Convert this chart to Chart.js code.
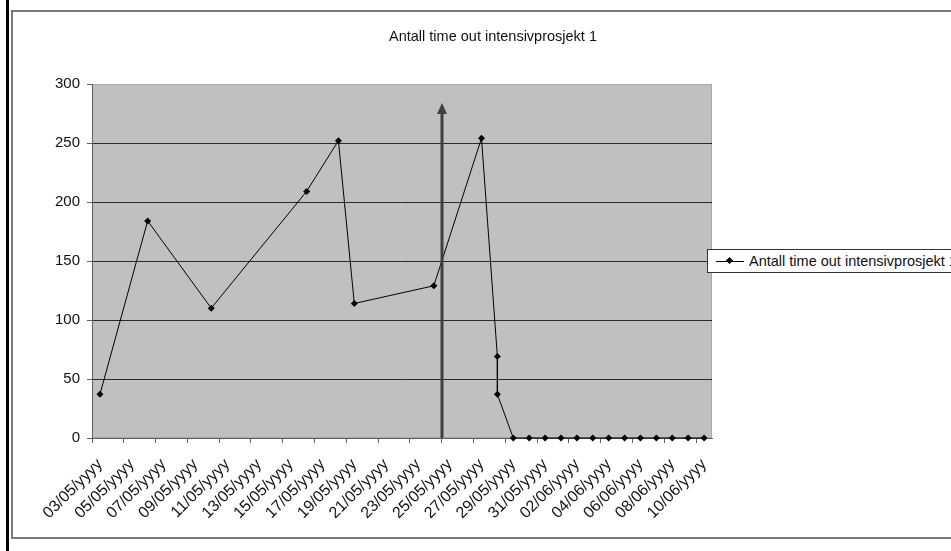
<!DOCTYPE html>
<html>
<head>
<meta charset="utf-8">
<script src="https://cdn.jsdelivr.net/npm/chart.js@4.4.1/dist/chart.umd.min.js"></script>
<style>
  html, body { margin: 0; padding: 0; background: #fff; overflow: hidden; }
  #wrap { position: relative; width: 951px; height: 551px; overflow: hidden; }
  #bar { position: absolute; left: 6px; top: 0; width: 3px; height: 551px; background: #000; }
  #frame { position: absolute; left: 11px; top: 10px; width: 960px; height: 525px; border: 2px solid #7a7a7a; }
  #chart { position: absolute; left: 0; top: 0; }
  #legend {
    position: absolute; left: 707px; top: 249px; width: 300px; height: 22px;
    border: 1px solid #333; background: #fff;
    font-family: "Liberation Sans", Arial, sans-serif; font-size: 14.5px; color: #111;
  }
  #legend .line { position: absolute; left: 8px; top: 11px; width: 28px; height: 1px; background: #000; }
  #legend .marker { position: absolute; left: 19px; top: 8px; width: 5px; height: 5px; background: #000; transform: rotate(45deg); }
  #legend .text { position: absolute; left: 41px; top: 2px; white-space: nowrap; line-height: 18px; }
</style>
</head>
<body>
<div id="wrap">
  <div id="bar"></div>
  <div id="frame"></div>
  <canvas id="chart" width="951" height="551"></canvas>
  <div id="legend"></div>
</div>
<script>
// Static data (dd/mm, year shown as "yyyy" in the original)
const chartTitle = "Antall time out intensivprosjekt 1";
const seriesLabel = "Antall time out intensivprosjekt 1";

const pointDates = [
    "03/05", "06/05", "10/05", "16/05", "18/05", "19/05", "24/05", "27/05",
    "28/05", "28/05", "29/05", "30/05", "31/05", "01/06", "02/06", "03/06",
    "04/06", "05/06", "06/06", "07/06", "08/06", "09/06", "10/06",
];
const timeOuts = [
    37, 184, 110, 209, 252, 114, 129, 254, 69, 37, 0, 0, 0, 0, 0, 0, 0, 0, 0,
    0, 0, 0, 0,
];

const firstDay = "03/05";
const lastDay = "10/06";
const tickDates = [
    "03/05", "05/05", "07/05", "09/05", "11/05", "13/05", "15/05", "17/05",
    "19/05", "21/05", "23/05", "25/05", "27/05", "29/05", "31/05", "02/06",
    "04/06", "06/06", "08/06", "10/06",
];
const yTicks = [0, 50, 100, 150, 200, 250, 300];

// Vertical arrow marker
const arrowDate = "25/05";
const arrowTop = 284;

const dayIndex = (d) => {
    const [dd, mm] = d.split("/").map(Number);
    const [fd, fm] = firstDay.split("/").map(Number);
    return (Date.UTC(2000, mm - 1, dd) - Date.UTC(2000, fm - 1, fd)) / 86400000;
};

const font = { family: "'Liberation Sans', Arial, sans-serif" };

// Gray plot area + light border
const plotBackground = {
    id: "plotBackground",
    beforeDraw(chart) {
        const { ctx, chartArea: a } = chart;
        ctx.save();
        ctx.fillStyle = "#c0c0c0";
        ctx.fillRect(a.left, a.top, a.right - a.left, a.bottom - a.top);
        ctx.strokeStyle = "#a8a8a8";
        ctx.lineWidth = 1;
        ctx.strokeRect(a.left + 0.5, a.top + 0.5, a.right - a.left - 1, a.bottom - a.top - 1);
        ctx.restore();
    },
};

const arrowMarker = {
    id: "arrowMarker",
    afterDatasetsDraw(chart) {
        const { ctx } = chart;
        const x = chart.scales.x;
        const y = chart.scales.y;
        const px = Math.round(x.getPixelForValue(dayIndex(arrowDate)));
        const top = y.getPixelForValue(arrowTop);
        const base = y.getPixelForValue(0);
        ctx.save();
        ctx.strokeStyle = "#404040";
        ctx.fillStyle = "#404040";
        ctx.lineWidth = 3;
        ctx.beginPath();
        ctx.moveTo(px, base);
        ctx.lineTo(px, top + 9);
        ctx.stroke();
        ctx.beginPath();
        ctx.moveTo(px, top);
        ctx.lineTo(px - 5, top + 11);
        ctx.lineTo(px + 5, top + 11);
        ctx.closePath();
        ctx.fill();
        ctx.restore();
    },
};

const chart = new Chart(document.getElementById("chart"), {
    type: "line",
    data: {
        datasets: [
            {
                label: seriesLabel,
                data: pointDates.map((d, i) => ({ x: dayIndex(d) + 0.5, y: timeOuts[i] })),
                borderColor: "#000",
                borderWidth: 1,
                pointStyle: "rectRot",
                pointRadius: 3.5,
                pointBackgroundColor: "#000",
                pointBorderColor: "#000",
                pointBorderWidth: 0,
                tension: 0,
                clip: false,
            },
        ],
    },
    options: {
        responsive: false,
        animation: false,
        devicePixelRatio: 1,
        layout: {
            padding: { left: 35, right: 0, top: 0, bottom: 0 },
        },
        scales: {
            x: {
                type: "linear",
                min: 0,
                max: dayIndex(lastDay) + 1,
                afterBuildTicks: (scale) => {
                    scale.ticks = tickDates.map((d) => ({ value: dayIndex(d) }));
                },
                afterFit: (scale) => {
                    scale.height = 113;
                },
                grid: {
                    drawOnChartArea: false,
                    tickLength: 5,
                    tickColor: "#606060",
                },
                border: { color: "#606060", width: 1 },
                ticks: {
                    autoSkip: false,
                    maxRotation: 45,
                    minRotation: 45,
                    labelOffset: 8,
                    padding: 12,
                    color: "#111",
                    font: { ...font, size: 16 },
                    callback: (value, i) => tickDates[i] + "/yyyy",
                },
            },
            y: {
                min: 0,
                max: 300,
                afterBuildTicks: (scale) => {
                    scale.ticks = yTicks.map((v) => ({ value: v }));
                },
                afterFit: (scale) => {
                    scale.width = 57;
                },
                grid: {
                    color: (c) =>
                        c.tick.value === 300 ? "#a8a8a8" : c.tick.value === 0 ? "#606060" : "#2a2a2a",
                    tickLength: 5,
                    tickColor: "#606060",
                },
                border: { color: "#606060", width: 1 },
                ticks: {
                    padding: 7,
                    color: "#111",
                    font: { ...font, size: 15 },
                },
            },
            // empty right box that keeps room for the legend
            yR: {
                position: "right",
                display: true,
                grid: { display: false },
                border: { display: false },
                ticks: { display: false },
                afterFit: (scale) => {
                    scale.width = 239;
                },
            },
        },
        plugins: {
            title: {
                display: true,
                text: chartTitle,
                color: "#111",
                font: { ...font, size: 14.5, weight: "normal" },
                padding: { top: 28, bottom: 38.6 },
            },
            legend: { display: false },
            tooltip: { enabled: false },
        },
    },
    plugins: [plotBackground, arrowMarker],
});

// HTML legend built from the dataset
const legend = document.getElementById("legend");
chart.data.datasets.forEach((ds) => {
    legend.innerHTML =
        '<span class="line"></span><span class="marker"></span><span class="text">' +
        ds.label +
        "</span>";
});
</script>
</body>
</html>
